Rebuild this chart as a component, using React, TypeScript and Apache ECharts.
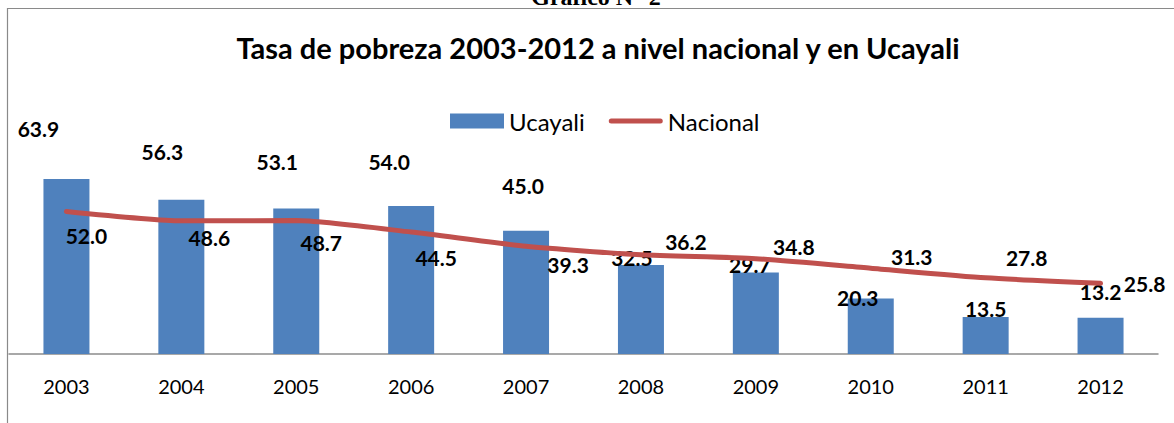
import React, { useEffect, useRef } from "react";
import * as echarts from "echarts";

const years = ["2003", "2004", "2005", "2006", "2007", "2008", "2009", "2010", "2011", "2012"];
const ucayali = [63.9, 56.3, 53.1, 54.0, 45.0, 32.5, 29.7, 20.3, 13.5, 13.2];
const nacional = [52.0, 48.6, 48.7, 44.5, 39.3, 36.2, 34.8, 31.3, 27.8, 25.8];
const seriesNames = ["Ucayali", "Nacional"];
const chartTitle = "Tasa de pobreza 2003-2012 a nivel nacional y en Ucayali";
const headerText = "Gráfico N° 2";

// label placement (manually moved labels in the original), in px relative to the mark
const UCAYALI_LABEL_OFFSETS = [
  [-28, -50], [-19, -48], [-19, -47], [-22, -45], [-3, -45],
  [-9, -7], [-6, -8], [-13, -1], [0, -9], [0, -26],
];
const NACIONAL_LABEL_OFFSETS = [
  [20, 25], [28, 18], [25, 23], [25, 26], [42, 19],
  [45, -12], [38, -11], [41, -11], [41, -19], [44, 1],
];

const FONT = "Lato, 'Open Sans', sans-serif";
const BLUE = "#4F81BD";
const RED = "#C0504D";

export default function App() {
  const ref = useRef<HTMLDivElement>(null);

  useEffect(() => {
    if (!ref.current) return;
    const chart = echarts.init(ref.current, null, { renderer: "svg" });

    const labelBase = {
      show: true,
      position: "top",
      distance: 0,
      align: "center",
      verticalAlign: "middle",
      fontFamily: FONT,
      fontWeight: "bold",
      fontSize: 21,
      color: "#000",
      formatter: (p: any) => Number(p.value).toFixed(1),
    };

    chart.setOption({
      animation: false,
      backgroundColor: "#ffffff",
      textStyle: { fontFamily: FONT },
      title: {
        text: chartTitle,
        left: 598,
        textAlign: "center",
        top: 33,
        padding: 0,
        textStyle: { fontFamily: FONT, fontWeight: "bold", fontSize: 29, color: "#000" },
      },
      legend: {
        left: 450,
        top: 109,
        padding: 0,
        itemWidth: 54,
        itemHeight: 15,
        itemGap: 24,
        textStyle: { fontFamily: FONT, fontSize: 24, color: "#000" },
        data: [
          { name: seriesNames[0], icon: "rect" },
          {
            name: seriesNames[1],
            icon: "path://M2.5,0 L51.5,0 A2.5,2.5 0 0 1 51.5,5 L2.5,5 A2.5,2.5 0 0 1 2.5,0 Z",
            itemStyle: { color: RED },
          },
        ],
      },
      grid: { left: 9, right: 16, top: 80, bottom: 69, containLabel: false },
      xAxis: {
        type: "category",
        data: years,
        boundaryGap: true,
        axisLine: { show: true, lineStyle: { color: "#8c8c8c", width: 1.5 } },
        axisTick: { show: false },
        axisLabel: { fontFamily: FONT, fontSize: 20, color: "#000", margin: 22 },
      },
      yAxis: {
        type: "value",
        min: 0,
        max: 100,
        show: false,
        splitLine: { show: false },
      },
      series: [
        {
          name: seriesNames[0],
          type: "bar",
          barWidth: 46,
          itemStyle: { color: BLUE },
          data: ucayali.map((v, i) => ({
            value: v,
            label: { ...labelBase, offset: UCAYALI_LABEL_OFFSETS[i] },
          })),
          z: 2,
        },
        {
          name: seriesNames[1],
          type: "line",
          smooth: 0.2,
          symbol: "circle",
          symbolSize: 2,
          showSymbol: true,
          lineStyle: { color: RED, width: 5, cap: "round" },
          itemStyle: { color: RED },
          data: nacional.map((v, i) => ({
            value: v,
            label: { ...labelBase, offset: NACIONAL_LABEL_OFFSETS[i] },
          })),
          z: 3,
        },
      ],
      graphic: [
        {
          type: "rect",
          shape: { x: 7.5, y: 8.5, width: 1300, height: 600 },
          style: { fill: "none", stroke: "#8a8a8a", lineWidth: 1.2 },
          silent: true,
          z: 0,
        },
        {
          type: "text",
          x: 596,
          y: -3,
          style: {
            text: headerText,
            fontFamily: "'Liberation Serif', 'DejaVu Serif', serif",
            fontWeight: "bold",
            fontSize: 24,
            fill: "#000",
            align: "center",
            verticalAlign: "middle",
          },
          silent: true,
        },
      ],
    });

    return () => chart.dispose();
  }, []);

  return (
    <div
      ref={ref}
      style={{ position: "absolute", left: 0, top: 0, width: 1174, height: 423 }}
    />
  );
}
